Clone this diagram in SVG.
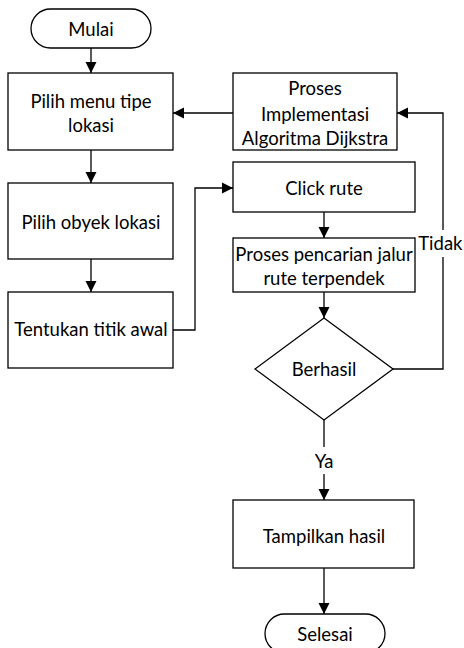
<svg xmlns="http://www.w3.org/2000/svg" width="464" height="648" viewBox="0 0 464 648">
<style>
.n{fill:#fff;stroke:#000;stroke-width:1.3}
.t{font-family:Lato,"Liberation Sans",sans-serif;font-size:18.5px;fill:#000;text-anchor:middle;dominant-baseline:central}
.c{fill:none;stroke:#000;stroke-width:1.3}
</style>
<defs>
<marker id="a" markerUnits="userSpaceOnUse" markerWidth="12" markerHeight="12" refX="11" refY="6" orient="auto">
<path d="M0,0.5 L11,6 L0,11.5 Z" fill="#000"/>
</marker>
</defs>
<rect width="464" height="648" fill="#fff"/>
<g id="connectors">
<line class="c" x1="91" y1="48" x2="91" y2="73" marker-end="url(#a)"/>
<line class="c" x1="233" y1="113" x2="173" y2="113" marker-end="url(#a)"/>
<line class="c" x1="91" y1="150" x2="91" y2="183" marker-end="url(#a)"/>
<line class="c" x1="91" y1="259" x2="91" y2="292" marker-end="url(#a)"/>
<polyline class="c" points="173,330 195,330 195,188 233,188" marker-end="url(#a)"/>
<line class="c" x1="324" y1="212" x2="324" y2="238" marker-end="url(#a)"/>
<line class="c" x1="324" y1="292" x2="324" y2="318" marker-end="url(#a)"/>
<polyline class="c" points="393,369 443,369 443,257"/>
<polyline class="c" points="443,230 443,113 397,113" marker-end="url(#a)"/>
<line class="c" x1="324" y1="420" x2="324" y2="447"/>
<line class="c" x1="324" y1="474" x2="324" y2="500" marker-end="url(#a)"/>
<line class="c" x1="324" y1="568" x2="324" y2="614" marker-end="url(#a)"/>
<text class="t" x="462.5" y="243" style="text-anchor:end">Tidak</text>
<text class="t" x="324" y="461">Ya</text>
</g>
<g id="mulai">
<rect class="n" x="31" y="9" width="120" height="39" rx="19.5"/>
<text class="t" x="91" y="29">Mulai</text>
</g>
<g id="pilih-menu">
<rect class="n" x="8" y="73" width="165" height="77"/>
<text class="t" x="91" y="101">Pilih menu tipe</text>
<text class="t" x="91" y="125">lokasi</text>
</g>
<g id="pilih-obyek">
<rect class="n" x="8" y="183" width="165" height="76"/>
<text class="t" x="91" y="222">Pilih obyek lokasi</text>
</g>
<g id="tentukan">
<rect class="n" x="8" y="292" width="165" height="76"/>
<text class="t" x="91" y="329">Tentukan titik awal</text>
</g>
<g id="proses-implementasi">
<rect class="n" x="233" y="73" width="164" height="77"/>
<text class="t" x="315" y="88">Proses</text>
<text class="t" x="315" y="114">Implementasi</text>
<text class="t" x="315" y="138">Algoritma Dijkstra</text>
</g>
<g id="click-rute">
<rect class="n" x="233" y="162" width="182" height="50"/>
<text class="t" x="324" y="188">Click rute</text>
</g>
<g id="proses-pencarian">
<rect class="n" x="233" y="238" width="182" height="54"/>
<text class="t" x="324" y="254">Proses pencarian jalur</text>
<text class="t" x="324" y="278">rute terpendek</text>
</g>
<g id="berhasil">
<polygon class="n" points="324,318 393,369 324,420 255,369"/>
<text class="t" x="324" y="369">Berhasil</text>
</g>
<g id="tampilkan">
<rect class="n" x="233" y="500" width="181" height="68"/>
<text class="t" x="324" y="536">Tampilkan hasil</text>
</g>
<g id="selesai">
<rect class="n" x="265" y="614" width="120" height="39" rx="19.5"/>
<text class="t" x="325" y="634">Selesai</text>
</g>
</svg>
